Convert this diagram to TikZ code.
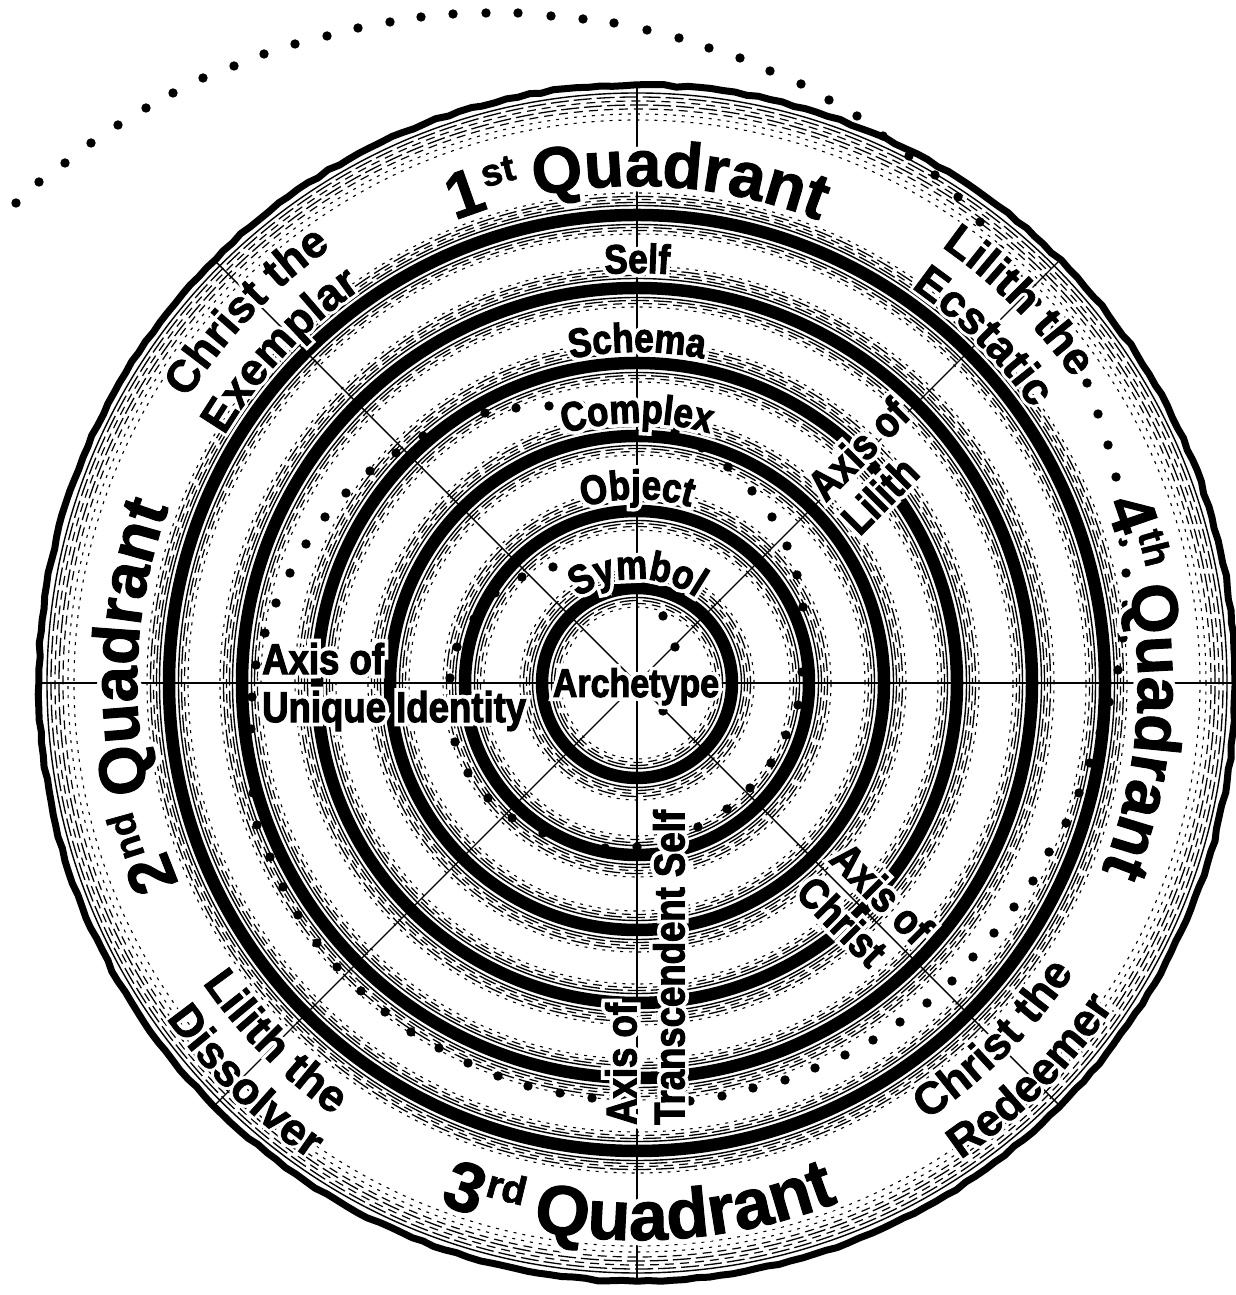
\documentclass[tikz,border=0pt]{standalone}
\usepackage{fontspec}
\usetikzlibrary{decorations.text,decorations.pathmorphing}
\newfontfamily\condfont{Liberation Sans Bold}[FakeStretch=0.85,FakeBold=2.5]
\newfontfamily\condhalo{Liberation Sans Bold}[FakeStretch=0.85,FakeBold=20]
\newfontfamily\qfont{Liberation Sans Bold}[FakeBold=1.5]
\newfontfamily\qhalo{Liberation Sans Bold}[FakeBold=15]
\newcommand\ringF{\condfont\fontsize{41}{45}\selectfont}
\newcommand\ringH{\condhalo\fontsize{41}{45}\selectfont\color{white}}
\newcommand\arcF{\condfont\fontsize{40}{44}\selectfont}
\newcommand\arcH{\condhalo\fontsize{40}{44}\selectfont\color{white}}
\newcommand\axisF{\condfont\fontsize{43}{48}\selectfont}
\newcommand\axisH{\condhalo\fontsize{43}{48}\selectfont\color{white}}
\newcommand\qF{\qfont\fontsize{65}{70}\selectfont}
\newcommand\qH{\qhalo\fontsize{65}{70}\selectfont\color{white}}
\newcommand\qsF{\qfont\fontsize{38}{40}\selectfont}
\newcommand\qsH{\qhalo\fontsize{38}{40}\selectfont\color{white}}
\newcommand\bF{\qfont\fontsize{70}{74}\selectfont}
\newcommand\bH{\qhalo\fontsize{70}{74}\selectfont\color{white}}
\newcommand\bsF{\qfont\fontsize{40}{42}\selectfont}
\newcommand\bsH{\qhalo\fontsize{40}{42}\selectfont\color{white}}
\newcommand\nF{\qfont\fontsize{45}{50}\selectfont}
\newcommand\nH{\qhalo\fontsize{45}{50}\selectfont\color{white}}
% curved text: #1 align, #2 radius, #3 start angle, #4 end angle, #5 font, #6 text
\newcommand\ctext[6]{\path[decorate,decoration={text along path,text align=#1,text={|#5|#6}}] ([shift={(#3:#2)}]C) arc[start angle=#3,end angle=#4,radius=#2];}
\newcommand\htext[7]{\ctext{#1}{#2}{#3}{#4}{#6}{#7}\ctext{#1}{#2}{#3}{#4}{#5}{#7}}
\newcommand\hnode[3]{\node[#1,text=white,font=\axisH] {#3};\node[#1,font=\axisF] (#2) {#3};}
\begin{document}
\begin{tikzpicture}[x=1pt,y=1pt,
  thk/.style={line width=12.5pt},
  hla/.style={line width=1.4pt},
  hlb/.style={line width=1.3pt,dash pattern=on 18pt off 5pt},
  hlc/.style={line width=1.2pt,dash pattern=on 9pt off 6pt,dash phase=4pt},
  hld/.style={line width=1.1pt,dash pattern=on 3pt off 6pt},
  radial/.style={line width=1.4pt},
  spot/.style={fill=black}]
\fill[white] (0,0) rectangle (1236,1295);
\useasboundingbox (0,0) rectangle (1236,1295);
\coordinate (C) at (637,612);
% hatching around rings
\foreach \r in {95,172,247,320,395,468}{
  \draw[hla] (C) circle[radius=\r+9.5];
  \draw[hlb] (C) circle[radius=\r+12.5];
  \draw[hlc] (C) circle[radius=\r+15.5];
  \draw[hlb,dash phase=11pt] (C) circle[radius=\r+18.5];
  \draw[hld] (C) circle[radius=\r+22];
  \draw[hla] (C) circle[radius=\r-9.5];
  \draw[hlb,dash phase=9pt] (C) circle[radius=\r-12.5];
  \draw[hlc] (C) circle[radius=\r-15.5];
  \draw[hld] (C) circle[radius=\r-19];
}
\foreach \r/\s in {590/hla,586/hlb,582/hlc,578/hlb,574/hlc,569/hld,563/hld}{
  \draw[\s] (C) circle[radius=\r];
}
% radial lines
\foreach \a in {0,45,...,315} \draw[radial] (C) -- ++(\a:598);
% thick rings
\foreach \r in {95,172,247,320,395,468} \draw[thk] (C) circle[radius=\r];
% outer boundary
\draw[line width=7pt,line join=round,decorate,decoration={random steps,segment length=12pt,amplitude=1pt}] (C) circle[radius=598];
% spiral of dots (image coordinates)
\begin{scope}[shift={(0,1295)},yscale=-1]
\foreach \x/\y in {16/203,39/182,65/163,91/143,118/125,146/108,173/93,203/78,234/66,264/54,295/44,327/36,358/28,390/22,421/17,453/14,486/13,518/13,551/16,583/19,614/23,647/30,679/38,709/48,740/58,770/71,801/84,829/100,857/116,883/136,909/156,935/175,958/197,980/222,
999/249,1018/276,1037/302,1055/329,1071/356,
1087/383,1098/414,1108/445,1116/477,1120/509,1123/542,1126/573,1126/605,1123/638,1118/670,1109/702,1100/733,1090/763,1079/793,1066/823,1049/852,1033/881,1014/907,994/933,973/957,952/981,927/1003,900/1022,873/1040,845/1055,815/1068,785/1080,753/1088,722/1096,690/1101,658/1102,625/1101,592/1098,560/1093,528/1086,498/1076,468/1063,439/1048,411/1032,385/1012,361/991,337/967,317/943,298/915,283/887,270/857,257/825,
253/793,251/761,251/729,252/697,256/665,
265/633,276/603,290/573,306/544,325/517,346/493,370/471,396/453,423/436,454/422,485/413,516/408,549/406,
581/405,613/410,644/419,
675/432,702/448,728/467,752/491,772/517,787/546,797/575,803/607,804/640,802/672,798/705,786/735,771/763,750/788,727/809,698/827,668/840,637/847,605/848,574/843,543/833,512/818,488/798,468/773,455/742,451/710,450/678,457/647,474/619,495/593,522/577,553/567,
583/574,612/588,663/616,675/647,672/679,663/711}
  \fill[spot] (\x,\y) circle[radius=4.7];
\end{scope}
% ring labels
\htext{center}{410}{150}{30}{\ringF}{\ringH}{Self}
\htext{center}{331}{150}{30}{\ringF}{\ringH}{Schema}
\htext{center}{260}{150}{30}{\ringF}{\ringH}{Complex}
\htext{center}{184}{150}{30}{\ringF}{\ringH}{Object}
\htext{center}{104}{160}{20}{\ringF}{\ringH}{Symbol}
% centre
\node[anchor=base,inner sep=0pt,text=white,font=\arcH] at (636,598) {Archetype};
\node[anchor=base,inner sep=0pt,font=\arcF] (arch) at (636,598) {Archetype};
% axes
\hnode{anchor=west,align=left,inner sep=0pt,at={(262,608)}}{unique}{Axis of\\Unique Identity}
\hnode{anchor=center,align=left,inner sep=0pt,rotate=45,at={(875,829)}}{lilith}{Axis of\\Lilith}
\hnode{anchor=center,align=left,inner sep=0pt,rotate=-45,at={(865,385)}}{christ}{Axis of\\Christ}
\hnode{anchor=west,align=left,inner sep=0pt,rotate=90,at={(645,170)}}{transc}{Axis of\\Transcendent Self}
% figures in the outer band
\htext{center}{532}{176.4}{96.4}{\nF}{\nH}{Christ the}
\htext{center}{481}{177}{97}{\nF}{\nH}{Exemplar}
\htext{center}{532}{85}{5}{\nF}{\nH}{Lilith the}
\htext{center}{481}{85}{5}{\nF}{\nH}{Ecstatic}
\htext{center}{528}{184.8}{264.8}{\nF}{\nH}{Lilith the}
\htext{center}{578}{185.5}{265.5}{\nF}{\nH}{Dissolver}
\htext{center}{524}{275}{355}{\nF}{\nH}{Christ the}
\htext{center}{576}{275}{355}{\nF}{\nH}{Redeemer}
% quadrants
\htext{left}{497}{111.5}{60}{\qF}{\qH}{1}
\htext{left}{518}{107.1}{60}{\qsF}{\qsH}{st}
\htext{left}{497}{101.8}{40}{\qF}{\qH}{Quadrant}
\htext{left}{500}{203.6}{150}{\qF}{\qH}{2}
\htext{left}{521}{199.26}{150}{\qsF}{\qsH}{nd}
\htext{left}{500}{192.56}{130}{\qF}{\qH}{Quadrant}
\htext{left}{501}{20.95}{-30}{\qF}{\qH}{4}
\htext{left}{522}{16.62}{-30}{\qsF}{\qsH}{th}
\htext{left}{501}{11.08}{-50}{\qF}{\qH}{Quadrant}
\htext{left}{557}{249.2}{300}{\bF}{\bH}{3}
\htext{left}{535}{253.4}{300}{\bsF}{\bsH}{rd}
\htext{left}{557}{259.2}{320}{\bF}{\bH}{Quadrant}
\end{tikzpicture}
\end{document}
